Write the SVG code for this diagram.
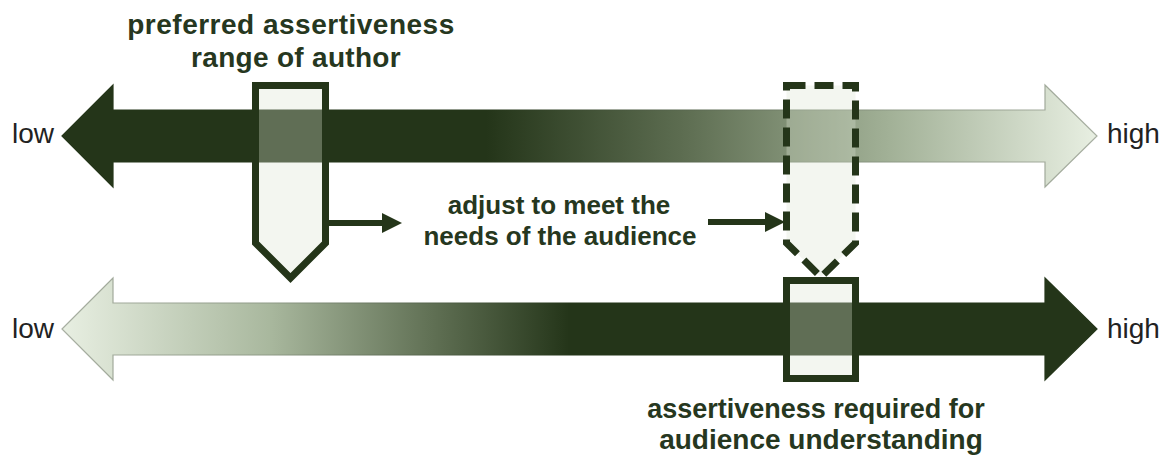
<svg xmlns="http://www.w3.org/2000/svg" width="1168" height="456" viewBox="0 0 1168 456">
  <defs>
    <linearGradient id="gTop" gradientUnits="userSpaceOnUse" x1="62" y1="0" x2="1097" y2="0">
      <stop offset="0" stop-color="#243519"/>
      <stop offset="0.41" stop-color="#243519"/>
      <stop offset="0.6" stop-color="#5d6d51"/>
      <stop offset="0.8" stop-color="#a2b197"/>
      <stop offset="1" stop-color="#e8efe2"/>
    </linearGradient>
    <linearGradient id="gTopStroke" gradientUnits="userSpaceOnUse" x1="62" y1="0" x2="1097" y2="0">
      <stop offset="0" stop-color="#243519"/>
      <stop offset="0.41" stop-color="#243519"/>
      <stop offset="0.8" stop-color="#8e9a86"/>
      <stop offset="1" stop-color="#a8afa2"/>
    </linearGradient>
    <linearGradient id="gBot" gradientUnits="userSpaceOnUse" x1="62" y1="0" x2="1097" y2="0">
      <stop offset="0" stop-color="#e8efe2"/>
      <stop offset="0.2" stop-color="#a9b89e"/>
      <stop offset="0.36" stop-color="#5f6f53"/>
      <stop offset="0.49" stop-color="#243519"/>
      <stop offset="1" stop-color="#243519"/>
    </linearGradient>
    <linearGradient id="gBotStroke" gradientUnits="userSpaceOnUse" x1="62" y1="0" x2="1097" y2="0">
      <stop offset="0" stop-color="#a8afa2"/>
      <stop offset="0.2" stop-color="#8e9a86"/>
      <stop offset="0.49" stop-color="#243519"/>
      <stop offset="1" stop-color="#243519"/>
    </linearGradient>
    <marker id="head" markerUnits="userSpaceOnUse" markerWidth="20" markerHeight="20" refX="0" refY="10" orient="auto" overflow="visible">
      <path d="M0,0 L20,10 L0,20 Z" fill="#243519"/>
    </marker>
  </defs>
  <style>
    .bold { font-family: "Liberation Sans", Arial, sans-serif; font-weight: bold; fill: #263720; text-anchor: middle; }
    .scale { font-family: "Liberation Sans", Arial, sans-serif; font-size: 28px; fill: #222; }
    .box { fill: #dce3d0; fill-opacity: 0.33; stroke: #243519; stroke-width: 7; stroke-linejoin: miter; }
    .dash { stroke-dasharray: 19 9; }
    .conn { stroke: #243519; stroke-width: 6; fill: none; }
  </style>

  <g id="scale-top">
    <path d="M62,136 L113,85 L113,110 L1045,110 L1045,85 L1097,136 L1045,187 L1045,162 L113,162 L113,187 Z" fill="url(#gTop)" stroke="url(#gTopStroke)" stroke-width="1.2"/>
    <text class="scale" x="12" y="143">low</text>
    <text class="scale" x="1107" y="143">high</text>
  </g>

  <g id="scale-bottom">
    <path d="M62,329 L113,278 L113,303 L1045,303 L1045,278 L1097,329 L1045,380 L1045,355 L113,355 L113,380 Z" fill="url(#gBot)" stroke="url(#gBotStroke)" stroke-width="1.2"/>
    <text class="scale" x="12" y="338">low</text>
    <text class="scale" x="1107" y="338">high</text>
  </g>

  <g id="author-range">
    <path class="box" d="M255.5,85.5 H325.5 V243 L290.5,278 L255.5,243 Z"/>
    <text class="bold" font-size="28" letter-spacing="0.5" x="291" y="34">preferred assertiveness</text>
    <text class="bold" font-size="28" letter-spacing="0.3" x="296" y="67">range of author</text>
  </g>

  <g id="adjusted-range">
    <path class="box dash" d="M786.5,85.5 H855.5 V243 L821,277 L786.5,243 Z"/>
  </g>

  <g id="required-range">
    <rect class="box" x="786.5" y="280.5" width="69" height="98"/>
    <text class="bold" font-size="27" letter-spacing="0" x="816" y="418">assertiveness required for</text>
    <text class="bold" font-size="28" letter-spacing="0" x="821" y="449">audience understanding</text>
  </g>

  <g id="adjust-label">
    <text class="bold" font-size="26" x="559" y="214">adjust to meet the</text>
    <text class="bold" font-size="26" x="560" y="245">needs of the audience</text>
  </g>

  <g id="connectors">
    <line class="conn" x1="329" y1="223" x2="382" y2="223" marker-end="url(#head)"/>
    <line class="conn" x1="708" y1="222" x2="765" y2="222" marker-end="url(#head)"/>
  </g>
</svg>
